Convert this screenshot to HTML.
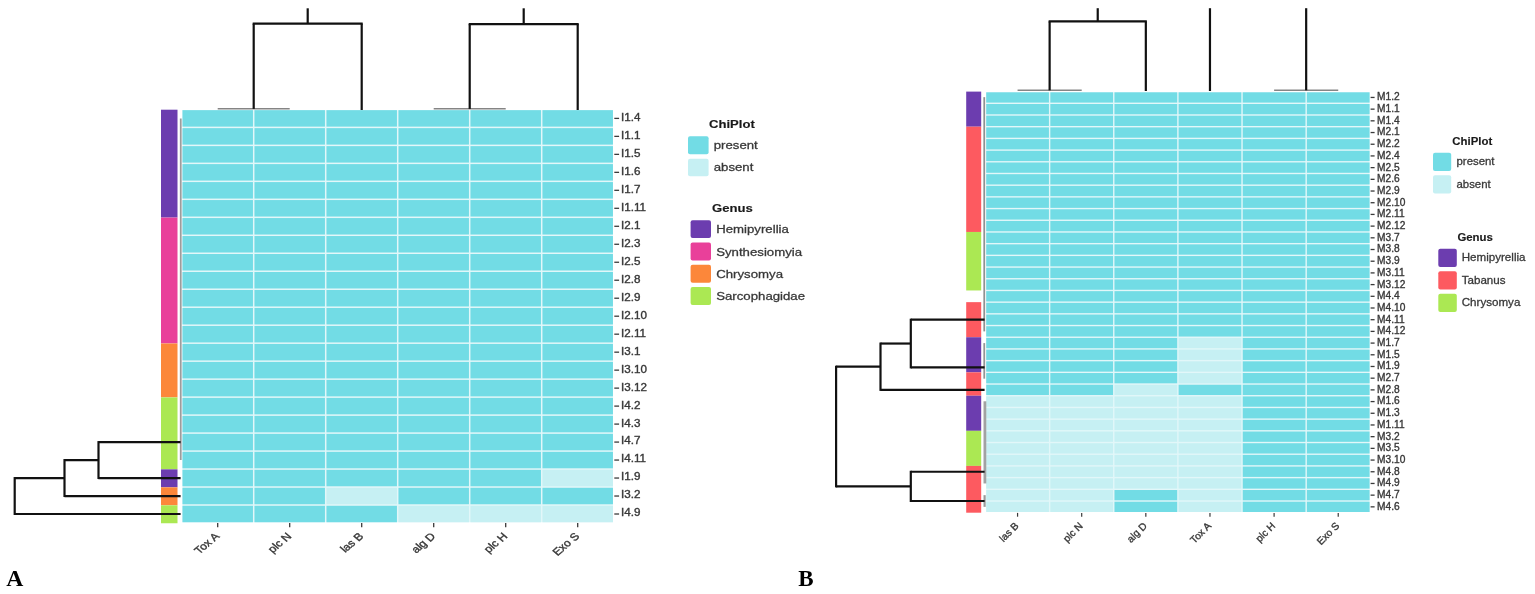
<!DOCTYPE html>
<html><head><meta charset="utf-8"><title>Heatmaps</title>
<style>html,body{margin:0;padding:0;background:#fff;}svg{display:block;}</style>
</head><body>
<svg width="1535" height="594" viewBox="0 0 1535 594">
<rect width="1535" height="594" fill="#fff"/>
<rect x="182.45" y="110.15" width="430.50" height="412.10" fill="#e2f7f9"/>
<rect x="182.45" y="110.15" width="70.50" height="16.48" fill="#72dce5"/>
<rect x="254.45" y="110.15" width="70.50" height="16.48" fill="#72dce5"/>
<rect x="326.45" y="110.15" width="70.50" height="16.48" fill="#72dce5"/>
<rect x="398.45" y="110.15" width="70.50" height="16.48" fill="#72dce5"/>
<rect x="470.45" y="110.15" width="70.50" height="16.48" fill="#72dce5"/>
<rect x="542.45" y="110.15" width="70.50" height="16.48" fill="#72dce5"/>
<rect x="182.45" y="128.13" width="70.50" height="16.48" fill="#72dce5"/>
<rect x="254.45" y="128.13" width="70.50" height="16.48" fill="#72dce5"/>
<rect x="326.45" y="128.13" width="70.50" height="16.48" fill="#72dce5"/>
<rect x="398.45" y="128.13" width="70.50" height="16.48" fill="#72dce5"/>
<rect x="470.45" y="128.13" width="70.50" height="16.48" fill="#72dce5"/>
<rect x="542.45" y="128.13" width="70.50" height="16.48" fill="#72dce5"/>
<rect x="182.45" y="146.12" width="70.50" height="16.48" fill="#72dce5"/>
<rect x="254.45" y="146.12" width="70.50" height="16.48" fill="#72dce5"/>
<rect x="326.45" y="146.12" width="70.50" height="16.48" fill="#72dce5"/>
<rect x="398.45" y="146.12" width="70.50" height="16.48" fill="#72dce5"/>
<rect x="470.45" y="146.12" width="70.50" height="16.48" fill="#72dce5"/>
<rect x="542.45" y="146.12" width="70.50" height="16.48" fill="#72dce5"/>
<rect x="182.45" y="164.10" width="70.50" height="16.48" fill="#72dce5"/>
<rect x="254.45" y="164.10" width="70.50" height="16.48" fill="#72dce5"/>
<rect x="326.45" y="164.10" width="70.50" height="16.48" fill="#72dce5"/>
<rect x="398.45" y="164.10" width="70.50" height="16.48" fill="#72dce5"/>
<rect x="470.45" y="164.10" width="70.50" height="16.48" fill="#72dce5"/>
<rect x="542.45" y="164.10" width="70.50" height="16.48" fill="#72dce5"/>
<rect x="182.45" y="182.08" width="70.50" height="16.48" fill="#72dce5"/>
<rect x="254.45" y="182.08" width="70.50" height="16.48" fill="#72dce5"/>
<rect x="326.45" y="182.08" width="70.50" height="16.48" fill="#72dce5"/>
<rect x="398.45" y="182.08" width="70.50" height="16.48" fill="#72dce5"/>
<rect x="470.45" y="182.08" width="70.50" height="16.48" fill="#72dce5"/>
<rect x="542.45" y="182.08" width="70.50" height="16.48" fill="#72dce5"/>
<rect x="182.45" y="200.06" width="70.50" height="16.48" fill="#72dce5"/>
<rect x="254.45" y="200.06" width="70.50" height="16.48" fill="#72dce5"/>
<rect x="326.45" y="200.06" width="70.50" height="16.48" fill="#72dce5"/>
<rect x="398.45" y="200.06" width="70.50" height="16.48" fill="#72dce5"/>
<rect x="470.45" y="200.06" width="70.50" height="16.48" fill="#72dce5"/>
<rect x="542.45" y="200.06" width="70.50" height="16.48" fill="#72dce5"/>
<rect x="182.45" y="218.05" width="70.50" height="16.48" fill="#72dce5"/>
<rect x="254.45" y="218.05" width="70.50" height="16.48" fill="#72dce5"/>
<rect x="326.45" y="218.05" width="70.50" height="16.48" fill="#72dce5"/>
<rect x="398.45" y="218.05" width="70.50" height="16.48" fill="#72dce5"/>
<rect x="470.45" y="218.05" width="70.50" height="16.48" fill="#72dce5"/>
<rect x="542.45" y="218.05" width="70.50" height="16.48" fill="#72dce5"/>
<rect x="182.45" y="236.03" width="70.50" height="16.48" fill="#72dce5"/>
<rect x="254.45" y="236.03" width="70.50" height="16.48" fill="#72dce5"/>
<rect x="326.45" y="236.03" width="70.50" height="16.48" fill="#72dce5"/>
<rect x="398.45" y="236.03" width="70.50" height="16.48" fill="#72dce5"/>
<rect x="470.45" y="236.03" width="70.50" height="16.48" fill="#72dce5"/>
<rect x="542.45" y="236.03" width="70.50" height="16.48" fill="#72dce5"/>
<rect x="182.45" y="254.01" width="70.50" height="16.48" fill="#72dce5"/>
<rect x="254.45" y="254.01" width="70.50" height="16.48" fill="#72dce5"/>
<rect x="326.45" y="254.01" width="70.50" height="16.48" fill="#72dce5"/>
<rect x="398.45" y="254.01" width="70.50" height="16.48" fill="#72dce5"/>
<rect x="470.45" y="254.01" width="70.50" height="16.48" fill="#72dce5"/>
<rect x="542.45" y="254.01" width="70.50" height="16.48" fill="#72dce5"/>
<rect x="182.45" y="271.99" width="70.50" height="16.48" fill="#72dce5"/>
<rect x="254.45" y="271.99" width="70.50" height="16.48" fill="#72dce5"/>
<rect x="326.45" y="271.99" width="70.50" height="16.48" fill="#72dce5"/>
<rect x="398.45" y="271.99" width="70.50" height="16.48" fill="#72dce5"/>
<rect x="470.45" y="271.99" width="70.50" height="16.48" fill="#72dce5"/>
<rect x="542.45" y="271.99" width="70.50" height="16.48" fill="#72dce5"/>
<rect x="182.45" y="289.98" width="70.50" height="16.48" fill="#72dce5"/>
<rect x="254.45" y="289.98" width="70.50" height="16.48" fill="#72dce5"/>
<rect x="326.45" y="289.98" width="70.50" height="16.48" fill="#72dce5"/>
<rect x="398.45" y="289.98" width="70.50" height="16.48" fill="#72dce5"/>
<rect x="470.45" y="289.98" width="70.50" height="16.48" fill="#72dce5"/>
<rect x="542.45" y="289.98" width="70.50" height="16.48" fill="#72dce5"/>
<rect x="182.45" y="307.96" width="70.50" height="16.48" fill="#72dce5"/>
<rect x="254.45" y="307.96" width="70.50" height="16.48" fill="#72dce5"/>
<rect x="326.45" y="307.96" width="70.50" height="16.48" fill="#72dce5"/>
<rect x="398.45" y="307.96" width="70.50" height="16.48" fill="#72dce5"/>
<rect x="470.45" y="307.96" width="70.50" height="16.48" fill="#72dce5"/>
<rect x="542.45" y="307.96" width="70.50" height="16.48" fill="#72dce5"/>
<rect x="182.45" y="325.94" width="70.50" height="16.48" fill="#72dce5"/>
<rect x="254.45" y="325.94" width="70.50" height="16.48" fill="#72dce5"/>
<rect x="326.45" y="325.94" width="70.50" height="16.48" fill="#72dce5"/>
<rect x="398.45" y="325.94" width="70.50" height="16.48" fill="#72dce5"/>
<rect x="470.45" y="325.94" width="70.50" height="16.48" fill="#72dce5"/>
<rect x="542.45" y="325.94" width="70.50" height="16.48" fill="#72dce5"/>
<rect x="182.45" y="343.92" width="70.50" height="16.48" fill="#72dce5"/>
<rect x="254.45" y="343.92" width="70.50" height="16.48" fill="#72dce5"/>
<rect x="326.45" y="343.92" width="70.50" height="16.48" fill="#72dce5"/>
<rect x="398.45" y="343.92" width="70.50" height="16.48" fill="#72dce5"/>
<rect x="470.45" y="343.92" width="70.50" height="16.48" fill="#72dce5"/>
<rect x="542.45" y="343.92" width="70.50" height="16.48" fill="#72dce5"/>
<rect x="182.45" y="361.91" width="70.50" height="16.48" fill="#72dce5"/>
<rect x="254.45" y="361.91" width="70.50" height="16.48" fill="#72dce5"/>
<rect x="326.45" y="361.91" width="70.50" height="16.48" fill="#72dce5"/>
<rect x="398.45" y="361.91" width="70.50" height="16.48" fill="#72dce5"/>
<rect x="470.45" y="361.91" width="70.50" height="16.48" fill="#72dce5"/>
<rect x="542.45" y="361.91" width="70.50" height="16.48" fill="#72dce5"/>
<rect x="182.45" y="379.89" width="70.50" height="16.48" fill="#72dce5"/>
<rect x="254.45" y="379.89" width="70.50" height="16.48" fill="#72dce5"/>
<rect x="326.45" y="379.89" width="70.50" height="16.48" fill="#72dce5"/>
<rect x="398.45" y="379.89" width="70.50" height="16.48" fill="#72dce5"/>
<rect x="470.45" y="379.89" width="70.50" height="16.48" fill="#72dce5"/>
<rect x="542.45" y="379.89" width="70.50" height="16.48" fill="#72dce5"/>
<rect x="182.45" y="397.87" width="70.50" height="16.48" fill="#72dce5"/>
<rect x="254.45" y="397.87" width="70.50" height="16.48" fill="#72dce5"/>
<rect x="326.45" y="397.87" width="70.50" height="16.48" fill="#72dce5"/>
<rect x="398.45" y="397.87" width="70.50" height="16.48" fill="#72dce5"/>
<rect x="470.45" y="397.87" width="70.50" height="16.48" fill="#72dce5"/>
<rect x="542.45" y="397.87" width="70.50" height="16.48" fill="#72dce5"/>
<rect x="182.45" y="415.85" width="70.50" height="16.48" fill="#72dce5"/>
<rect x="254.45" y="415.85" width="70.50" height="16.48" fill="#72dce5"/>
<rect x="326.45" y="415.85" width="70.50" height="16.48" fill="#72dce5"/>
<rect x="398.45" y="415.85" width="70.50" height="16.48" fill="#72dce5"/>
<rect x="470.45" y="415.85" width="70.50" height="16.48" fill="#72dce5"/>
<rect x="542.45" y="415.85" width="70.50" height="16.48" fill="#72dce5"/>
<rect x="182.45" y="433.84" width="70.50" height="16.48" fill="#72dce5"/>
<rect x="254.45" y="433.84" width="70.50" height="16.48" fill="#72dce5"/>
<rect x="326.45" y="433.84" width="70.50" height="16.48" fill="#72dce5"/>
<rect x="398.45" y="433.84" width="70.50" height="16.48" fill="#72dce5"/>
<rect x="470.45" y="433.84" width="70.50" height="16.48" fill="#72dce5"/>
<rect x="542.45" y="433.84" width="70.50" height="16.48" fill="#72dce5"/>
<rect x="182.45" y="451.82" width="70.50" height="16.48" fill="#72dce5"/>
<rect x="254.45" y="451.82" width="70.50" height="16.48" fill="#72dce5"/>
<rect x="326.45" y="451.82" width="70.50" height="16.48" fill="#72dce5"/>
<rect x="398.45" y="451.82" width="70.50" height="16.48" fill="#72dce5"/>
<rect x="470.45" y="451.82" width="70.50" height="16.48" fill="#72dce5"/>
<rect x="542.45" y="451.82" width="70.50" height="16.48" fill="#72dce5"/>
<rect x="182.45" y="469.80" width="70.50" height="16.48" fill="#72dce5"/>
<rect x="254.45" y="469.80" width="70.50" height="16.48" fill="#72dce5"/>
<rect x="326.45" y="469.80" width="70.50" height="16.48" fill="#72dce5"/>
<rect x="398.45" y="469.80" width="70.50" height="16.48" fill="#72dce5"/>
<rect x="470.45" y="469.80" width="70.50" height="16.48" fill="#72dce5"/>
<rect x="542.45" y="469.80" width="70.50" height="16.48" fill="#c6f0f3"/>
<rect x="182.45" y="487.78" width="70.50" height="16.48" fill="#72dce5"/>
<rect x="254.45" y="487.78" width="70.50" height="16.48" fill="#72dce5"/>
<rect x="326.45" y="487.78" width="70.50" height="16.48" fill="#c6f0f3"/>
<rect x="398.45" y="487.78" width="70.50" height="16.48" fill="#72dce5"/>
<rect x="470.45" y="487.78" width="70.50" height="16.48" fill="#72dce5"/>
<rect x="542.45" y="487.78" width="70.50" height="16.48" fill="#72dce5"/>
<rect x="182.45" y="505.77" width="70.50" height="16.48" fill="#72dce5"/>
<rect x="254.45" y="505.77" width="70.50" height="16.48" fill="#72dce5"/>
<rect x="326.45" y="505.77" width="70.50" height="16.48" fill="#72dce5"/>
<rect x="398.45" y="505.77" width="70.50" height="16.48" fill="#c6f0f3"/>
<rect x="470.45" y="505.77" width="70.50" height="16.48" fill="#c6f0f3"/>
<rect x="542.45" y="505.77" width="70.50" height="16.48" fill="#c6f0f3"/>
<rect x="161.00" y="109.70" width="16.50" height="107.85" fill="#6c3daf"/>
<rect x="161.00" y="217.60" width="16.50" height="125.83" fill="#e9409a"/>
<rect x="161.00" y="343.47" width="16.50" height="53.90" fill="#fc873a"/>
<rect x="161.00" y="397.42" width="16.50" height="71.88" fill="#abe853"/>
<rect x="161.00" y="469.35" width="16.50" height="17.93" fill="#6c3daf"/>
<rect x="161.00" y="487.33" width="16.50" height="17.93" fill="#fc873a"/>
<rect x="161.00" y="505.32" width="16.50" height="17.93" fill="#abe853"/>
<line x1="180.75" y1="118.39" x2="180.75" y2="460.06" stroke="#9c9c9c" stroke-width="1.8"/>
<line x1="217.70" y1="108.80" x2="289.70" y2="108.80" stroke="#858585" stroke-width="1.5"/>
<line x1="433.70" y1="108.80" x2="505.70" y2="108.80" stroke="#858585" stroke-width="1.5"/>
<line x1="253.70" y1="108.90" x2="253.70" y2="23.60" stroke="#111" stroke-width="2.2"/>
<line x1="361.70" y1="110.00" x2="361.70" y2="23.60" stroke="#111" stroke-width="2.2"/>
<line x1="252.70" y1="23.60" x2="362.70" y2="23.60" stroke="#111" stroke-width="2.2"/>
<line x1="307.70" y1="23.60" x2="307.70" y2="8.30" stroke="#111" stroke-width="2.2"/>
<line x1="469.70" y1="108.90" x2="469.70" y2="24.10" stroke="#111" stroke-width="2.2"/>
<line x1="577.70" y1="110.00" x2="577.70" y2="24.10" stroke="#111" stroke-width="2.2"/>
<line x1="468.70" y1="24.10" x2="578.70" y2="24.10" stroke="#111" stroke-width="2.2"/>
<line x1="523.70" y1="24.10" x2="523.70" y2="8.30" stroke="#111" stroke-width="2.2"/>
<line x1="98.50" y1="442.08" x2="180.60" y2="442.08" stroke="#111" stroke-width="2.2"/>
<line x1="98.50" y1="478.04" x2="180.60" y2="478.04" stroke="#111" stroke-width="2.2"/>
<line x1="98.50" y1="441.08" x2="98.50" y2="479.04" stroke="#111" stroke-width="2.2"/>
<line x1="64.50" y1="460.06" x2="98.50" y2="460.06" stroke="#111" stroke-width="2.2"/>
<line x1="64.50" y1="496.03" x2="180.60" y2="496.03" stroke="#111" stroke-width="2.2"/>
<line x1="64.50" y1="459.06" x2="64.50" y2="497.03" stroke="#111" stroke-width="2.2"/>
<line x1="14.70" y1="478.04" x2="64.50" y2="478.04" stroke="#111" stroke-width="2.2"/>
<line x1="14.70" y1="514.01" x2="180.60" y2="514.01" stroke="#111" stroke-width="2.2"/>
<line x1="14.70" y1="477.04" x2="14.70" y2="515.01" stroke="#111" stroke-width="2.2"/>
<line x1="614.30" y1="118.39" x2="619.10" y2="118.39" stroke="#3a3a3a" stroke-width="1.3"/>
<text transform="translate(621.00,120.79) scale(1.12,1)" font-size="10.4" font-family='"Liberation Sans", Arial, sans-serif' stroke="#383838" stroke-width="0.35" fill="#383838" text-anchor="start">I1.4</text>
<line x1="614.30" y1="136.37" x2="619.10" y2="136.37" stroke="#3a3a3a" stroke-width="1.3"/>
<text transform="translate(621.00,138.77) scale(1.12,1)" font-size="10.4" font-family='"Liberation Sans", Arial, sans-serif' stroke="#383838" stroke-width="0.35" fill="#383838" text-anchor="start">I1.1</text>
<line x1="614.30" y1="154.36" x2="619.10" y2="154.36" stroke="#3a3a3a" stroke-width="1.3"/>
<text transform="translate(621.00,156.76) scale(1.12,1)" font-size="10.4" font-family='"Liberation Sans", Arial, sans-serif' stroke="#383838" stroke-width="0.35" fill="#383838" text-anchor="start">I1.5</text>
<line x1="614.30" y1="172.34" x2="619.10" y2="172.34" stroke="#3a3a3a" stroke-width="1.3"/>
<text transform="translate(621.00,174.74) scale(1.12,1)" font-size="10.4" font-family='"Liberation Sans", Arial, sans-serif' stroke="#383838" stroke-width="0.35" fill="#383838" text-anchor="start">I1.6</text>
<line x1="614.30" y1="190.32" x2="619.10" y2="190.32" stroke="#3a3a3a" stroke-width="1.3"/>
<text transform="translate(621.00,192.72) scale(1.12,1)" font-size="10.4" font-family='"Liberation Sans", Arial, sans-serif' stroke="#383838" stroke-width="0.35" fill="#383838" text-anchor="start">I1.7</text>
<line x1="614.30" y1="208.30" x2="619.10" y2="208.30" stroke="#3a3a3a" stroke-width="1.3"/>
<text transform="translate(621.00,210.70) scale(1.12,1)" font-size="10.4" font-family='"Liberation Sans", Arial, sans-serif' stroke="#383838" stroke-width="0.35" fill="#383838" text-anchor="start">I1.11</text>
<line x1="614.30" y1="226.29" x2="619.10" y2="226.29" stroke="#3a3a3a" stroke-width="1.3"/>
<text transform="translate(621.00,228.69) scale(1.12,1)" font-size="10.4" font-family='"Liberation Sans", Arial, sans-serif' stroke="#383838" stroke-width="0.35" fill="#383838" text-anchor="start">I2.1</text>
<line x1="614.30" y1="244.27" x2="619.10" y2="244.27" stroke="#3a3a3a" stroke-width="1.3"/>
<text transform="translate(621.00,246.67) scale(1.12,1)" font-size="10.4" font-family='"Liberation Sans", Arial, sans-serif' stroke="#383838" stroke-width="0.35" fill="#383838" text-anchor="start">I2.3</text>
<line x1="614.30" y1="262.25" x2="619.10" y2="262.25" stroke="#3a3a3a" stroke-width="1.3"/>
<text transform="translate(621.00,264.65) scale(1.12,1)" font-size="10.4" font-family='"Liberation Sans", Arial, sans-serif' stroke="#383838" stroke-width="0.35" fill="#383838" text-anchor="start">I2.5</text>
<line x1="614.30" y1="280.23" x2="619.10" y2="280.23" stroke="#3a3a3a" stroke-width="1.3"/>
<text transform="translate(621.00,282.63) scale(1.12,1)" font-size="10.4" font-family='"Liberation Sans", Arial, sans-serif' stroke="#383838" stroke-width="0.35" fill="#383838" text-anchor="start">I2.8</text>
<line x1="614.30" y1="298.22" x2="619.10" y2="298.22" stroke="#3a3a3a" stroke-width="1.3"/>
<text transform="translate(621.00,300.62) scale(1.12,1)" font-size="10.4" font-family='"Liberation Sans", Arial, sans-serif' stroke="#383838" stroke-width="0.35" fill="#383838" text-anchor="start">I2.9</text>
<line x1="614.30" y1="316.20" x2="619.10" y2="316.20" stroke="#3a3a3a" stroke-width="1.3"/>
<text transform="translate(621.00,318.60) scale(1.12,1)" font-size="10.4" font-family='"Liberation Sans", Arial, sans-serif' stroke="#383838" stroke-width="0.35" fill="#383838" text-anchor="start">I2.10</text>
<line x1="614.30" y1="334.18" x2="619.10" y2="334.18" stroke="#3a3a3a" stroke-width="1.3"/>
<text transform="translate(621.00,336.58) scale(1.12,1)" font-size="10.4" font-family='"Liberation Sans", Arial, sans-serif' stroke="#383838" stroke-width="0.35" fill="#383838" text-anchor="start">I2.11</text>
<line x1="614.30" y1="352.17" x2="619.10" y2="352.17" stroke="#3a3a3a" stroke-width="1.3"/>
<text transform="translate(621.00,354.57) scale(1.12,1)" font-size="10.4" font-family='"Liberation Sans", Arial, sans-serif' stroke="#383838" stroke-width="0.35" fill="#383838" text-anchor="start">I3.1</text>
<line x1="614.30" y1="370.15" x2="619.10" y2="370.15" stroke="#3a3a3a" stroke-width="1.3"/>
<text transform="translate(621.00,372.55) scale(1.12,1)" font-size="10.4" font-family='"Liberation Sans", Arial, sans-serif' stroke="#383838" stroke-width="0.35" fill="#383838" text-anchor="start">I3.10</text>
<line x1="614.30" y1="388.13" x2="619.10" y2="388.13" stroke="#3a3a3a" stroke-width="1.3"/>
<text transform="translate(621.00,390.53) scale(1.12,1)" font-size="10.4" font-family='"Liberation Sans", Arial, sans-serif' stroke="#383838" stroke-width="0.35" fill="#383838" text-anchor="start">I3.12</text>
<line x1="614.30" y1="406.11" x2="619.10" y2="406.11" stroke="#3a3a3a" stroke-width="1.3"/>
<text transform="translate(621.00,408.51) scale(1.12,1)" font-size="10.4" font-family='"Liberation Sans", Arial, sans-serif' stroke="#383838" stroke-width="0.35" fill="#383838" text-anchor="start">I4.2</text>
<line x1="614.30" y1="424.10" x2="619.10" y2="424.10" stroke="#3a3a3a" stroke-width="1.3"/>
<text transform="translate(621.00,426.50) scale(1.12,1)" font-size="10.4" font-family='"Liberation Sans", Arial, sans-serif' stroke="#383838" stroke-width="0.35" fill="#383838" text-anchor="start">I4.3</text>
<line x1="614.30" y1="442.08" x2="619.10" y2="442.08" stroke="#3a3a3a" stroke-width="1.3"/>
<text transform="translate(621.00,444.48) scale(1.12,1)" font-size="10.4" font-family='"Liberation Sans", Arial, sans-serif' stroke="#383838" stroke-width="0.35" fill="#383838" text-anchor="start">I4.7</text>
<line x1="614.30" y1="460.06" x2="619.10" y2="460.06" stroke="#3a3a3a" stroke-width="1.3"/>
<text transform="translate(621.00,462.46) scale(1.12,1)" font-size="10.4" font-family='"Liberation Sans", Arial, sans-serif' stroke="#383838" stroke-width="0.35" fill="#383838" text-anchor="start">I4.11</text>
<line x1="614.30" y1="478.04" x2="619.10" y2="478.04" stroke="#3a3a3a" stroke-width="1.3"/>
<text transform="translate(621.00,480.44) scale(1.12,1)" font-size="10.4" font-family='"Liberation Sans", Arial, sans-serif' stroke="#383838" stroke-width="0.35" fill="#383838" text-anchor="start">I1.9</text>
<line x1="614.30" y1="496.03" x2="619.10" y2="496.03" stroke="#3a3a3a" stroke-width="1.3"/>
<text transform="translate(621.00,498.43) scale(1.12,1)" font-size="10.4" font-family='"Liberation Sans", Arial, sans-serif' stroke="#383838" stroke-width="0.35" fill="#383838" text-anchor="start">I3.2</text>
<line x1="614.30" y1="514.01" x2="619.10" y2="514.01" stroke="#3a3a3a" stroke-width="1.3"/>
<text transform="translate(621.00,516.41) scale(1.12,1)" font-size="10.4" font-family='"Liberation Sans", Arial, sans-serif' stroke="#383838" stroke-width="0.35" fill="#383838" text-anchor="start">I4.9</text>
<line x1="217.70" y1="523.10" x2="217.70" y2="527.30" stroke="#3a3a3a" stroke-width="1.3"/>
<text transform="translate(220.10,536.90) scale(1.17,1) rotate(-45)" font-size="10.3" font-family='"Liberation Sans", Arial, sans-serif' stroke="#383838" stroke-width="0.35" fill="#383838" text-anchor="end">Tox A</text>
<line x1="289.70" y1="523.10" x2="289.70" y2="527.30" stroke="#3a3a3a" stroke-width="1.3"/>
<text transform="translate(292.10,536.90) scale(1.17,1) rotate(-45)" font-size="10.3" font-family='"Liberation Sans", Arial, sans-serif' stroke="#383838" stroke-width="0.35" fill="#383838" text-anchor="end">plc N</text>
<line x1="361.70" y1="523.10" x2="361.70" y2="527.30" stroke="#3a3a3a" stroke-width="1.3"/>
<text transform="translate(364.10,536.90) scale(1.17,1) rotate(-45)" font-size="10.3" font-family='"Liberation Sans", Arial, sans-serif' stroke="#383838" stroke-width="0.35" fill="#383838" text-anchor="end">las B</text>
<line x1="433.70" y1="523.10" x2="433.70" y2="527.30" stroke="#3a3a3a" stroke-width="1.3"/>
<text transform="translate(436.10,536.90) scale(1.17,1) rotate(-45)" font-size="10.3" font-family='"Liberation Sans", Arial, sans-serif' stroke="#383838" stroke-width="0.35" fill="#383838" text-anchor="end">alg D</text>
<line x1="505.70" y1="523.10" x2="505.70" y2="527.30" stroke="#3a3a3a" stroke-width="1.3"/>
<text transform="translate(508.10,536.90) scale(1.17,1) rotate(-45)" font-size="10.3" font-family='"Liberation Sans", Arial, sans-serif' stroke="#383838" stroke-width="0.35" fill="#383838" text-anchor="end">plc H</text>
<line x1="577.70" y1="523.10" x2="577.70" y2="527.30" stroke="#3a3a3a" stroke-width="1.3"/>
<text transform="translate(580.10,536.90) scale(1.17,1) rotate(-45)" font-size="10.3" font-family='"Liberation Sans", Arial, sans-serif' stroke="#383838" stroke-width="0.35" fill="#383838" text-anchor="end">Exo S</text>
<text transform="translate(709.00,128.20) scale(1.17,1)" font-size="11.2" font-family='"Liberation Sans", Arial, sans-serif' font-weight="bold" stroke="#1a1a1a" stroke-width="0.15" fill="#1a1a1a" text-anchor="start">ChiPlot</text>
<rect x="688.00" y="136.30" width="20.60" height="17.90" fill="#72dce5" rx="2"/>
<rect x="688.00" y="158.80" width="20.60" height="17.50" fill="#c6f0f3" rx="2"/>
<text transform="translate(713.70,148.80) scale(1.13,1)" font-size="11.7" font-family='"Liberation Sans", Arial, sans-serif' stroke="#383838" stroke-width="0.3" fill="#383838" text-anchor="start">present</text>
<text transform="translate(713.70,170.80) scale(1.13,1)" font-size="11.7" font-family='"Liberation Sans", Arial, sans-serif' stroke="#383838" stroke-width="0.3" fill="#383838" text-anchor="start">absent</text>
<text transform="translate(712.00,212.40) scale(1.17,1)" font-size="11.2" font-family='"Liberation Sans", Arial, sans-serif' font-weight="bold" stroke="#1a1a1a" stroke-width="0.15" fill="#1a1a1a" text-anchor="start">Genus</text>
<rect x="690.60" y="220.20" width="20.40" height="17.90" fill="#6c3daf" rx="2"/>
<text transform="translate(716.20,233.40) scale(1.13,1)" font-size="11.7" font-family='"Liberation Sans", Arial, sans-serif' stroke="#383838" stroke-width="0.3" fill="#383838" text-anchor="start">Hemipyrellia</text>
<rect x="690.60" y="242.50" width="20.40" height="17.90" fill="#e9409a" rx="2"/>
<text transform="translate(716.20,255.70) scale(1.13,1)" font-size="11.7" font-family='"Liberation Sans", Arial, sans-serif' stroke="#383838" stroke-width="0.3" fill="#383838" text-anchor="start">Synthesiomyia</text>
<rect x="690.60" y="264.80" width="20.40" height="17.90" fill="#fc873a" rx="2"/>
<text transform="translate(716.20,278.00) scale(1.13,1)" font-size="11.7" font-family='"Liberation Sans", Arial, sans-serif' stroke="#383838" stroke-width="0.3" fill="#383838" text-anchor="start">Chrysomya</text>
<rect x="690.60" y="287.10" width="20.40" height="17.90" fill="#abe853" rx="2"/>
<text transform="translate(716.20,300.30) scale(1.13,1)" font-size="11.7" font-family='"Liberation Sans", Arial, sans-serif' stroke="#383838" stroke-width="0.3" fill="#383838" text-anchor="start">Sarcophagidae</text>
<text transform="translate(6.20,585.90) scale(1.03,1)" font-size="23" font-family='"Liberation Serif", "Times New Roman", serif' font-weight="bold" fill="#000" text-anchor="start">A</text>
<rect x="986.20" y="92.30" width="383.40" height="419.70" fill="#e2f7f9"/>
<rect x="986.20" y="92.30" width="62.73" height="10.30" fill="#72dce5"/>
<rect x="1050.33" y="92.30" width="62.73" height="10.30" fill="#72dce5"/>
<rect x="1114.47" y="92.30" width="62.73" height="10.30" fill="#72dce5"/>
<rect x="1178.60" y="92.30" width="62.73" height="10.30" fill="#72dce5"/>
<rect x="1242.73" y="92.30" width="62.73" height="10.30" fill="#72dce5"/>
<rect x="1306.87" y="92.30" width="62.73" height="10.30" fill="#72dce5"/>
<rect x="986.20" y="104.00" width="62.73" height="10.30" fill="#72dce5"/>
<rect x="1050.33" y="104.00" width="62.73" height="10.30" fill="#72dce5"/>
<rect x="1114.47" y="104.00" width="62.73" height="10.30" fill="#72dce5"/>
<rect x="1178.60" y="104.00" width="62.73" height="10.30" fill="#72dce5"/>
<rect x="1242.73" y="104.00" width="62.73" height="10.30" fill="#72dce5"/>
<rect x="1306.87" y="104.00" width="62.73" height="10.30" fill="#72dce5"/>
<rect x="986.20" y="115.69" width="62.73" height="10.30" fill="#72dce5"/>
<rect x="1050.33" y="115.69" width="62.73" height="10.30" fill="#72dce5"/>
<rect x="1114.47" y="115.69" width="62.73" height="10.30" fill="#72dce5"/>
<rect x="1178.60" y="115.69" width="62.73" height="10.30" fill="#72dce5"/>
<rect x="1242.73" y="115.69" width="62.73" height="10.30" fill="#72dce5"/>
<rect x="1306.87" y="115.69" width="62.73" height="10.30" fill="#72dce5"/>
<rect x="986.20" y="127.39" width="62.73" height="10.30" fill="#72dce5"/>
<rect x="1050.33" y="127.39" width="62.73" height="10.30" fill="#72dce5"/>
<rect x="1114.47" y="127.39" width="62.73" height="10.30" fill="#72dce5"/>
<rect x="1178.60" y="127.39" width="62.73" height="10.30" fill="#72dce5"/>
<rect x="1242.73" y="127.39" width="62.73" height="10.30" fill="#72dce5"/>
<rect x="1306.87" y="127.39" width="62.73" height="10.30" fill="#72dce5"/>
<rect x="986.20" y="139.09" width="62.73" height="10.30" fill="#72dce5"/>
<rect x="1050.33" y="139.09" width="62.73" height="10.30" fill="#72dce5"/>
<rect x="1114.47" y="139.09" width="62.73" height="10.30" fill="#72dce5"/>
<rect x="1178.60" y="139.09" width="62.73" height="10.30" fill="#72dce5"/>
<rect x="1242.73" y="139.09" width="62.73" height="10.30" fill="#72dce5"/>
<rect x="1306.87" y="139.09" width="62.73" height="10.30" fill="#72dce5"/>
<rect x="986.20" y="150.79" width="62.73" height="10.30" fill="#72dce5"/>
<rect x="1050.33" y="150.79" width="62.73" height="10.30" fill="#72dce5"/>
<rect x="1114.47" y="150.79" width="62.73" height="10.30" fill="#72dce5"/>
<rect x="1178.60" y="150.79" width="62.73" height="10.30" fill="#72dce5"/>
<rect x="1242.73" y="150.79" width="62.73" height="10.30" fill="#72dce5"/>
<rect x="1306.87" y="150.79" width="62.73" height="10.30" fill="#72dce5"/>
<rect x="986.20" y="162.48" width="62.73" height="10.30" fill="#72dce5"/>
<rect x="1050.33" y="162.48" width="62.73" height="10.30" fill="#72dce5"/>
<rect x="1114.47" y="162.48" width="62.73" height="10.30" fill="#72dce5"/>
<rect x="1178.60" y="162.48" width="62.73" height="10.30" fill="#72dce5"/>
<rect x="1242.73" y="162.48" width="62.73" height="10.30" fill="#72dce5"/>
<rect x="1306.87" y="162.48" width="62.73" height="10.30" fill="#72dce5"/>
<rect x="986.20" y="174.18" width="62.73" height="10.30" fill="#72dce5"/>
<rect x="1050.33" y="174.18" width="62.73" height="10.30" fill="#72dce5"/>
<rect x="1114.47" y="174.18" width="62.73" height="10.30" fill="#72dce5"/>
<rect x="1178.60" y="174.18" width="62.73" height="10.30" fill="#72dce5"/>
<rect x="1242.73" y="174.18" width="62.73" height="10.30" fill="#72dce5"/>
<rect x="1306.87" y="174.18" width="62.73" height="10.30" fill="#72dce5"/>
<rect x="986.20" y="185.88" width="62.73" height="10.30" fill="#72dce5"/>
<rect x="1050.33" y="185.88" width="62.73" height="10.30" fill="#72dce5"/>
<rect x="1114.47" y="185.88" width="62.73" height="10.30" fill="#72dce5"/>
<rect x="1178.60" y="185.88" width="62.73" height="10.30" fill="#72dce5"/>
<rect x="1242.73" y="185.88" width="62.73" height="10.30" fill="#72dce5"/>
<rect x="1306.87" y="185.88" width="62.73" height="10.30" fill="#72dce5"/>
<rect x="986.20" y="197.57" width="62.73" height="10.30" fill="#72dce5"/>
<rect x="1050.33" y="197.57" width="62.73" height="10.30" fill="#72dce5"/>
<rect x="1114.47" y="197.57" width="62.73" height="10.30" fill="#72dce5"/>
<rect x="1178.60" y="197.57" width="62.73" height="10.30" fill="#72dce5"/>
<rect x="1242.73" y="197.57" width="62.73" height="10.30" fill="#72dce5"/>
<rect x="1306.87" y="197.57" width="62.73" height="10.30" fill="#72dce5"/>
<rect x="986.20" y="209.27" width="62.73" height="10.30" fill="#72dce5"/>
<rect x="1050.33" y="209.27" width="62.73" height="10.30" fill="#72dce5"/>
<rect x="1114.47" y="209.27" width="62.73" height="10.30" fill="#72dce5"/>
<rect x="1178.60" y="209.27" width="62.73" height="10.30" fill="#72dce5"/>
<rect x="1242.73" y="209.27" width="62.73" height="10.30" fill="#72dce5"/>
<rect x="1306.87" y="209.27" width="62.73" height="10.30" fill="#72dce5"/>
<rect x="986.20" y="220.97" width="62.73" height="10.30" fill="#72dce5"/>
<rect x="1050.33" y="220.97" width="62.73" height="10.30" fill="#72dce5"/>
<rect x="1114.47" y="220.97" width="62.73" height="10.30" fill="#72dce5"/>
<rect x="1178.60" y="220.97" width="62.73" height="10.30" fill="#72dce5"/>
<rect x="1242.73" y="220.97" width="62.73" height="10.30" fill="#72dce5"/>
<rect x="1306.87" y="220.97" width="62.73" height="10.30" fill="#72dce5"/>
<rect x="986.20" y="232.67" width="62.73" height="10.30" fill="#72dce5"/>
<rect x="1050.33" y="232.67" width="62.73" height="10.30" fill="#72dce5"/>
<rect x="1114.47" y="232.67" width="62.73" height="10.30" fill="#72dce5"/>
<rect x="1178.60" y="232.67" width="62.73" height="10.30" fill="#72dce5"/>
<rect x="1242.73" y="232.67" width="62.73" height="10.30" fill="#72dce5"/>
<rect x="1306.87" y="232.67" width="62.73" height="10.30" fill="#72dce5"/>
<rect x="986.20" y="244.36" width="62.73" height="10.30" fill="#72dce5"/>
<rect x="1050.33" y="244.36" width="62.73" height="10.30" fill="#72dce5"/>
<rect x="1114.47" y="244.36" width="62.73" height="10.30" fill="#72dce5"/>
<rect x="1178.60" y="244.36" width="62.73" height="10.30" fill="#72dce5"/>
<rect x="1242.73" y="244.36" width="62.73" height="10.30" fill="#72dce5"/>
<rect x="1306.87" y="244.36" width="62.73" height="10.30" fill="#72dce5"/>
<rect x="986.20" y="256.06" width="62.73" height="10.30" fill="#72dce5"/>
<rect x="1050.33" y="256.06" width="62.73" height="10.30" fill="#72dce5"/>
<rect x="1114.47" y="256.06" width="62.73" height="10.30" fill="#72dce5"/>
<rect x="1178.60" y="256.06" width="62.73" height="10.30" fill="#72dce5"/>
<rect x="1242.73" y="256.06" width="62.73" height="10.30" fill="#72dce5"/>
<rect x="1306.87" y="256.06" width="62.73" height="10.30" fill="#72dce5"/>
<rect x="986.20" y="267.76" width="62.73" height="10.30" fill="#72dce5"/>
<rect x="1050.33" y="267.76" width="62.73" height="10.30" fill="#72dce5"/>
<rect x="1114.47" y="267.76" width="62.73" height="10.30" fill="#72dce5"/>
<rect x="1178.60" y="267.76" width="62.73" height="10.30" fill="#72dce5"/>
<rect x="1242.73" y="267.76" width="62.73" height="10.30" fill="#72dce5"/>
<rect x="1306.87" y="267.76" width="62.73" height="10.30" fill="#72dce5"/>
<rect x="986.20" y="279.46" width="62.73" height="10.30" fill="#72dce5"/>
<rect x="1050.33" y="279.46" width="62.73" height="10.30" fill="#72dce5"/>
<rect x="1114.47" y="279.46" width="62.73" height="10.30" fill="#72dce5"/>
<rect x="1178.60" y="279.46" width="62.73" height="10.30" fill="#72dce5"/>
<rect x="1242.73" y="279.46" width="62.73" height="10.30" fill="#72dce5"/>
<rect x="1306.87" y="279.46" width="62.73" height="10.30" fill="#72dce5"/>
<rect x="986.20" y="291.15" width="62.73" height="10.30" fill="#72dce5"/>
<rect x="1050.33" y="291.15" width="62.73" height="10.30" fill="#72dce5"/>
<rect x="1114.47" y="291.15" width="62.73" height="10.30" fill="#72dce5"/>
<rect x="1178.60" y="291.15" width="62.73" height="10.30" fill="#72dce5"/>
<rect x="1242.73" y="291.15" width="62.73" height="10.30" fill="#72dce5"/>
<rect x="1306.87" y="291.15" width="62.73" height="10.30" fill="#72dce5"/>
<rect x="986.20" y="302.85" width="62.73" height="10.30" fill="#72dce5"/>
<rect x="1050.33" y="302.85" width="62.73" height="10.30" fill="#72dce5"/>
<rect x="1114.47" y="302.85" width="62.73" height="10.30" fill="#72dce5"/>
<rect x="1178.60" y="302.85" width="62.73" height="10.30" fill="#72dce5"/>
<rect x="1242.73" y="302.85" width="62.73" height="10.30" fill="#72dce5"/>
<rect x="1306.87" y="302.85" width="62.73" height="10.30" fill="#72dce5"/>
<rect x="986.20" y="314.55" width="62.73" height="10.30" fill="#72dce5"/>
<rect x="1050.33" y="314.55" width="62.73" height="10.30" fill="#72dce5"/>
<rect x="1114.47" y="314.55" width="62.73" height="10.30" fill="#72dce5"/>
<rect x="1178.60" y="314.55" width="62.73" height="10.30" fill="#72dce5"/>
<rect x="1242.73" y="314.55" width="62.73" height="10.30" fill="#72dce5"/>
<rect x="1306.87" y="314.55" width="62.73" height="10.30" fill="#72dce5"/>
<rect x="986.20" y="326.24" width="62.73" height="10.30" fill="#72dce5"/>
<rect x="1050.33" y="326.24" width="62.73" height="10.30" fill="#72dce5"/>
<rect x="1114.47" y="326.24" width="62.73" height="10.30" fill="#72dce5"/>
<rect x="1178.60" y="326.24" width="62.73" height="10.30" fill="#72dce5"/>
<rect x="1242.73" y="326.24" width="62.73" height="10.30" fill="#72dce5"/>
<rect x="1306.87" y="326.24" width="62.73" height="10.30" fill="#72dce5"/>
<rect x="986.20" y="337.94" width="62.73" height="10.30" fill="#72dce5"/>
<rect x="1050.33" y="337.94" width="62.73" height="10.30" fill="#72dce5"/>
<rect x="1114.47" y="337.94" width="62.73" height="10.30" fill="#72dce5"/>
<rect x="1178.60" y="337.94" width="62.73" height="10.30" fill="#c6f0f3"/>
<rect x="1242.73" y="337.94" width="62.73" height="10.30" fill="#72dce5"/>
<rect x="1306.87" y="337.94" width="62.73" height="10.30" fill="#72dce5"/>
<rect x="986.20" y="349.64" width="62.73" height="10.30" fill="#72dce5"/>
<rect x="1050.33" y="349.64" width="62.73" height="10.30" fill="#72dce5"/>
<rect x="1114.47" y="349.64" width="62.73" height="10.30" fill="#72dce5"/>
<rect x="1178.60" y="349.64" width="62.73" height="10.30" fill="#c6f0f3"/>
<rect x="1242.73" y="349.64" width="62.73" height="10.30" fill="#72dce5"/>
<rect x="1306.87" y="349.64" width="62.73" height="10.30" fill="#72dce5"/>
<rect x="986.20" y="361.34" width="62.73" height="10.30" fill="#72dce5"/>
<rect x="1050.33" y="361.34" width="62.73" height="10.30" fill="#72dce5"/>
<rect x="1114.47" y="361.34" width="62.73" height="10.30" fill="#72dce5"/>
<rect x="1178.60" y="361.34" width="62.73" height="10.30" fill="#c6f0f3"/>
<rect x="1242.73" y="361.34" width="62.73" height="10.30" fill="#72dce5"/>
<rect x="1306.87" y="361.34" width="62.73" height="10.30" fill="#72dce5"/>
<rect x="986.20" y="373.03" width="62.73" height="10.30" fill="#72dce5"/>
<rect x="1050.33" y="373.03" width="62.73" height="10.30" fill="#72dce5"/>
<rect x="1114.47" y="373.03" width="62.73" height="10.30" fill="#72dce5"/>
<rect x="1178.60" y="373.03" width="62.73" height="10.30" fill="#c6f0f3"/>
<rect x="1242.73" y="373.03" width="62.73" height="10.30" fill="#72dce5"/>
<rect x="1306.87" y="373.03" width="62.73" height="10.30" fill="#72dce5"/>
<rect x="986.20" y="384.73" width="62.73" height="10.30" fill="#72dce5"/>
<rect x="1050.33" y="384.73" width="62.73" height="10.30" fill="#72dce5"/>
<rect x="1114.47" y="384.73" width="62.73" height="10.30" fill="#c6f0f3"/>
<rect x="1178.60" y="384.73" width="62.73" height="10.30" fill="#72dce5"/>
<rect x="1242.73" y="384.73" width="62.73" height="10.30" fill="#72dce5"/>
<rect x="1306.87" y="384.73" width="62.73" height="10.30" fill="#72dce5"/>
<rect x="986.20" y="396.43" width="62.73" height="10.30" fill="#c6f0f3"/>
<rect x="1050.33" y="396.43" width="62.73" height="10.30" fill="#c6f0f3"/>
<rect x="1114.47" y="396.43" width="62.73" height="10.30" fill="#c6f0f3"/>
<rect x="1178.60" y="396.43" width="62.73" height="10.30" fill="#c6f0f3"/>
<rect x="1242.73" y="396.43" width="62.73" height="10.30" fill="#72dce5"/>
<rect x="1306.87" y="396.43" width="62.73" height="10.30" fill="#72dce5"/>
<rect x="986.20" y="408.13" width="62.73" height="10.30" fill="#c6f0f3"/>
<rect x="1050.33" y="408.13" width="62.73" height="10.30" fill="#c6f0f3"/>
<rect x="1114.47" y="408.13" width="62.73" height="10.30" fill="#c6f0f3"/>
<rect x="1178.60" y="408.13" width="62.73" height="10.30" fill="#c6f0f3"/>
<rect x="1242.73" y="408.13" width="62.73" height="10.30" fill="#72dce5"/>
<rect x="1306.87" y="408.13" width="62.73" height="10.30" fill="#72dce5"/>
<rect x="986.20" y="419.82" width="62.73" height="10.30" fill="#c6f0f3"/>
<rect x="1050.33" y="419.82" width="62.73" height="10.30" fill="#c6f0f3"/>
<rect x="1114.47" y="419.82" width="62.73" height="10.30" fill="#c6f0f3"/>
<rect x="1178.60" y="419.82" width="62.73" height="10.30" fill="#c6f0f3"/>
<rect x="1242.73" y="419.82" width="62.73" height="10.30" fill="#72dce5"/>
<rect x="1306.87" y="419.82" width="62.73" height="10.30" fill="#72dce5"/>
<rect x="986.20" y="431.52" width="62.73" height="10.30" fill="#c6f0f3"/>
<rect x="1050.33" y="431.52" width="62.73" height="10.30" fill="#c6f0f3"/>
<rect x="1114.47" y="431.52" width="62.73" height="10.30" fill="#c6f0f3"/>
<rect x="1178.60" y="431.52" width="62.73" height="10.30" fill="#c6f0f3"/>
<rect x="1242.73" y="431.52" width="62.73" height="10.30" fill="#72dce5"/>
<rect x="1306.87" y="431.52" width="62.73" height="10.30" fill="#72dce5"/>
<rect x="986.20" y="443.22" width="62.73" height="10.30" fill="#c6f0f3"/>
<rect x="1050.33" y="443.22" width="62.73" height="10.30" fill="#c6f0f3"/>
<rect x="1114.47" y="443.22" width="62.73" height="10.30" fill="#c6f0f3"/>
<rect x="1178.60" y="443.22" width="62.73" height="10.30" fill="#c6f0f3"/>
<rect x="1242.73" y="443.22" width="62.73" height="10.30" fill="#72dce5"/>
<rect x="1306.87" y="443.22" width="62.73" height="10.30" fill="#72dce5"/>
<rect x="986.20" y="454.91" width="62.73" height="10.30" fill="#c6f0f3"/>
<rect x="1050.33" y="454.91" width="62.73" height="10.30" fill="#c6f0f3"/>
<rect x="1114.47" y="454.91" width="62.73" height="10.30" fill="#c6f0f3"/>
<rect x="1178.60" y="454.91" width="62.73" height="10.30" fill="#c6f0f3"/>
<rect x="1242.73" y="454.91" width="62.73" height="10.30" fill="#72dce5"/>
<rect x="1306.87" y="454.91" width="62.73" height="10.30" fill="#72dce5"/>
<rect x="986.20" y="466.61" width="62.73" height="10.30" fill="#c6f0f3"/>
<rect x="1050.33" y="466.61" width="62.73" height="10.30" fill="#c6f0f3"/>
<rect x="1114.47" y="466.61" width="62.73" height="10.30" fill="#c6f0f3"/>
<rect x="1178.60" y="466.61" width="62.73" height="10.30" fill="#c6f0f3"/>
<rect x="1242.73" y="466.61" width="62.73" height="10.30" fill="#72dce5"/>
<rect x="1306.87" y="466.61" width="62.73" height="10.30" fill="#72dce5"/>
<rect x="986.20" y="478.31" width="62.73" height="10.30" fill="#c6f0f3"/>
<rect x="1050.33" y="478.31" width="62.73" height="10.30" fill="#c6f0f3"/>
<rect x="1114.47" y="478.31" width="62.73" height="10.30" fill="#c6f0f3"/>
<rect x="1178.60" y="478.31" width="62.73" height="10.30" fill="#c6f0f3"/>
<rect x="1242.73" y="478.31" width="62.73" height="10.30" fill="#72dce5"/>
<rect x="1306.87" y="478.31" width="62.73" height="10.30" fill="#72dce5"/>
<rect x="986.20" y="490.01" width="62.73" height="10.30" fill="#c6f0f3"/>
<rect x="1050.33" y="490.01" width="62.73" height="10.30" fill="#c6f0f3"/>
<rect x="1114.47" y="490.01" width="62.73" height="10.30" fill="#72dce5"/>
<rect x="1178.60" y="490.01" width="62.73" height="10.30" fill="#c6f0f3"/>
<rect x="1242.73" y="490.01" width="62.73" height="10.30" fill="#72dce5"/>
<rect x="1306.87" y="490.01" width="62.73" height="10.30" fill="#72dce5"/>
<rect x="986.20" y="501.70" width="62.73" height="10.30" fill="#c6f0f3"/>
<rect x="1050.33" y="501.70" width="62.73" height="10.30" fill="#c6f0f3"/>
<rect x="1114.47" y="501.70" width="62.73" height="10.30" fill="#72dce5"/>
<rect x="1178.60" y="501.70" width="62.73" height="10.30" fill="#c6f0f3"/>
<rect x="1242.73" y="501.70" width="62.73" height="10.30" fill="#72dce5"/>
<rect x="1306.87" y="501.70" width="62.73" height="10.30" fill="#72dce5"/>
<rect x="966.20" y="91.60" width="15.00" height="35.09" fill="#6c3daf"/>
<rect x="966.20" y="126.69" width="15.00" height="105.28" fill="#fd5a60"/>
<rect x="966.20" y="231.97" width="15.00" height="58.49" fill="#abe853"/>
<rect x="966.20" y="302.15" width="15.00" height="35.09" fill="#fd5a60"/>
<rect x="966.20" y="337.24" width="15.00" height="35.09" fill="#6c3daf"/>
<rect x="966.20" y="372.33" width="15.00" height="23.39" fill="#fd5a60"/>
<rect x="966.20" y="395.73" width="15.00" height="35.09" fill="#6c3daf"/>
<rect x="966.20" y="430.82" width="15.00" height="35.09" fill="#abe853"/>
<rect x="966.20" y="465.91" width="15.00" height="46.79" fill="#fd5a60"/>
<line x1="984.25" y1="97.15" x2="984.25" y2="331.39" stroke="#919191" stroke-width="1.8"/>
<line x1="984.25" y1="343.09" x2="984.25" y2="378.68" stroke="#959595" stroke-width="1.8"/>
<line x1="984.90" y1="401.28" x2="984.90" y2="483.46" stroke="#a2a2a2" stroke-width="2.8"/>
<line x1="984.60" y1="495.15" x2="984.60" y2="506.85" stroke="#9a9a9a" stroke-width="2.2"/>
<line x1="1017.57" y1="90.30" x2="1081.70" y2="90.30" stroke="#858585" stroke-width="1.5"/>
<line x1="1274.10" y1="90.30" x2="1338.23" y2="90.30" stroke="#858585" stroke-width="1.5"/>
<line x1="1049.63" y1="90.30" x2="1049.63" y2="21.40" stroke="#111" stroke-width="2.2"/>
<line x1="1145.83" y1="91.00" x2="1145.83" y2="21.40" stroke="#111" stroke-width="2.2"/>
<line x1="1048.63" y1="21.40" x2="1146.83" y2="21.40" stroke="#111" stroke-width="2.2"/>
<line x1="1097.73" y1="21.40" x2="1097.73" y2="8.20" stroke="#111" stroke-width="2.2"/>
<line x1="1209.97" y1="91.00" x2="1209.97" y2="8.20" stroke="#111" stroke-width="2.2"/>
<line x1="1306.17" y1="90.30" x2="1306.17" y2="8.20" stroke="#111" stroke-width="2.2"/>
<line x1="910.80" y1="319.70" x2="984.60" y2="319.70" stroke="#111" stroke-width="2.2"/>
<line x1="910.80" y1="367.38" x2="984.60" y2="367.38" stroke="#111" stroke-width="2.2"/>
<line x1="910.80" y1="318.70" x2="910.80" y2="368.38" stroke="#111" stroke-width="2.2"/>
<line x1="880.50" y1="343.54" x2="910.80" y2="343.54" stroke="#111" stroke-width="2.2"/>
<line x1="880.50" y1="389.88" x2="984.60" y2="389.88" stroke="#111" stroke-width="2.2"/>
<line x1="880.50" y1="342.54" x2="880.50" y2="390.88" stroke="#111" stroke-width="2.2"/>
<line x1="910.80" y1="471.76" x2="984.60" y2="471.76" stroke="#111" stroke-width="2.2"/>
<line x1="910.80" y1="501.00" x2="984.60" y2="501.00" stroke="#111" stroke-width="2.2"/>
<line x1="910.80" y1="470.76" x2="910.80" y2="502.00" stroke="#111" stroke-width="2.2"/>
<line x1="836.10" y1="366.71" x2="880.50" y2="366.71" stroke="#111" stroke-width="2.2"/>
<line x1="836.10" y1="486.38" x2="910.80" y2="486.38" stroke="#111" stroke-width="2.2"/>
<line x1="836.10" y1="365.71" x2="836.10" y2="487.38" stroke="#111" stroke-width="2.2"/>
<line x1="1370.60" y1="97.45" x2="1374.60" y2="97.45" stroke="#3a3a3a" stroke-width="1.3"/>
<text transform="translate(1377.00,100.35) scale(0.99,1)" font-size="10.3" font-family='"Liberation Sans", Arial, sans-serif' stroke="#383838" stroke-width="0.35" fill="#383838" text-anchor="start">M1.2</text>
<line x1="1370.60" y1="109.15" x2="1374.60" y2="109.15" stroke="#3a3a3a" stroke-width="1.3"/>
<text transform="translate(1377.00,112.05) scale(0.99,1)" font-size="10.3" font-family='"Liberation Sans", Arial, sans-serif' stroke="#383838" stroke-width="0.35" fill="#383838" text-anchor="start">M1.1</text>
<line x1="1370.60" y1="120.84" x2="1374.60" y2="120.84" stroke="#3a3a3a" stroke-width="1.3"/>
<text transform="translate(1377.00,123.74) scale(0.99,1)" font-size="10.3" font-family='"Liberation Sans", Arial, sans-serif' stroke="#383838" stroke-width="0.35" fill="#383838" text-anchor="start">M1.4</text>
<line x1="1370.60" y1="132.54" x2="1374.60" y2="132.54" stroke="#3a3a3a" stroke-width="1.3"/>
<text transform="translate(1377.00,135.44) scale(0.99,1)" font-size="10.3" font-family='"Liberation Sans", Arial, sans-serif' stroke="#383838" stroke-width="0.35" fill="#383838" text-anchor="start">M2.1</text>
<line x1="1370.60" y1="144.24" x2="1374.60" y2="144.24" stroke="#3a3a3a" stroke-width="1.3"/>
<text transform="translate(1377.00,147.14) scale(0.99,1)" font-size="10.3" font-family='"Liberation Sans", Arial, sans-serif' stroke="#383838" stroke-width="0.35" fill="#383838" text-anchor="start">M2.2</text>
<line x1="1370.60" y1="155.93" x2="1374.60" y2="155.93" stroke="#3a3a3a" stroke-width="1.3"/>
<text transform="translate(1377.00,158.83) scale(0.99,1)" font-size="10.3" font-family='"Liberation Sans", Arial, sans-serif' stroke="#383838" stroke-width="0.35" fill="#383838" text-anchor="start">M2.4</text>
<line x1="1370.60" y1="167.63" x2="1374.60" y2="167.63" stroke="#3a3a3a" stroke-width="1.3"/>
<text transform="translate(1377.00,170.53) scale(0.99,1)" font-size="10.3" font-family='"Liberation Sans", Arial, sans-serif' stroke="#383838" stroke-width="0.35" fill="#383838" text-anchor="start">M2.5</text>
<line x1="1370.60" y1="179.33" x2="1374.60" y2="179.33" stroke="#3a3a3a" stroke-width="1.3"/>
<text transform="translate(1377.00,182.23) scale(0.99,1)" font-size="10.3" font-family='"Liberation Sans", Arial, sans-serif' stroke="#383838" stroke-width="0.35" fill="#383838" text-anchor="start">M2.6</text>
<line x1="1370.60" y1="191.03" x2="1374.60" y2="191.03" stroke="#3a3a3a" stroke-width="1.3"/>
<text transform="translate(1377.00,193.93) scale(0.99,1)" font-size="10.3" font-family='"Liberation Sans", Arial, sans-serif' stroke="#383838" stroke-width="0.35" fill="#383838" text-anchor="start">M2.9</text>
<line x1="1370.60" y1="202.72" x2="1374.60" y2="202.72" stroke="#3a3a3a" stroke-width="1.3"/>
<text transform="translate(1377.00,205.62) scale(0.99,1)" font-size="10.3" font-family='"Liberation Sans", Arial, sans-serif' stroke="#383838" stroke-width="0.35" fill="#383838" text-anchor="start">M2.10</text>
<line x1="1370.60" y1="214.42" x2="1374.60" y2="214.42" stroke="#3a3a3a" stroke-width="1.3"/>
<text transform="translate(1377.00,217.32) scale(0.99,1)" font-size="10.3" font-family='"Liberation Sans", Arial, sans-serif' stroke="#383838" stroke-width="0.35" fill="#383838" text-anchor="start">M2.11</text>
<line x1="1370.60" y1="226.12" x2="1374.60" y2="226.12" stroke="#3a3a3a" stroke-width="1.3"/>
<text transform="translate(1377.00,229.02) scale(0.99,1)" font-size="10.3" font-family='"Liberation Sans", Arial, sans-serif' stroke="#383838" stroke-width="0.35" fill="#383838" text-anchor="start">M2.12</text>
<line x1="1370.60" y1="237.82" x2="1374.60" y2="237.82" stroke="#3a3a3a" stroke-width="1.3"/>
<text transform="translate(1377.00,240.72) scale(0.99,1)" font-size="10.3" font-family='"Liberation Sans", Arial, sans-serif' stroke="#383838" stroke-width="0.35" fill="#383838" text-anchor="start">M3.7</text>
<line x1="1370.60" y1="249.51" x2="1374.60" y2="249.51" stroke="#3a3a3a" stroke-width="1.3"/>
<text transform="translate(1377.00,252.41) scale(0.99,1)" font-size="10.3" font-family='"Liberation Sans", Arial, sans-serif' stroke="#383838" stroke-width="0.35" fill="#383838" text-anchor="start">M3.8</text>
<line x1="1370.60" y1="261.21" x2="1374.60" y2="261.21" stroke="#3a3a3a" stroke-width="1.3"/>
<text transform="translate(1377.00,264.11) scale(0.99,1)" font-size="10.3" font-family='"Liberation Sans", Arial, sans-serif' stroke="#383838" stroke-width="0.35" fill="#383838" text-anchor="start">M3.9</text>
<line x1="1370.60" y1="272.91" x2="1374.60" y2="272.91" stroke="#3a3a3a" stroke-width="1.3"/>
<text transform="translate(1377.00,275.81) scale(0.99,1)" font-size="10.3" font-family='"Liberation Sans", Arial, sans-serif' stroke="#383838" stroke-width="0.35" fill="#383838" text-anchor="start">M3.11</text>
<line x1="1370.60" y1="284.60" x2="1374.60" y2="284.60" stroke="#3a3a3a" stroke-width="1.3"/>
<text transform="translate(1377.00,287.50) scale(0.99,1)" font-size="10.3" font-family='"Liberation Sans", Arial, sans-serif' stroke="#383838" stroke-width="0.35" fill="#383838" text-anchor="start">M3.12</text>
<line x1="1370.60" y1="296.30" x2="1374.60" y2="296.30" stroke="#3a3a3a" stroke-width="1.3"/>
<text transform="translate(1377.00,299.20) scale(0.99,1)" font-size="10.3" font-family='"Liberation Sans", Arial, sans-serif' stroke="#383838" stroke-width="0.35" fill="#383838" text-anchor="start">M4.4</text>
<line x1="1370.60" y1="308.00" x2="1374.60" y2="308.00" stroke="#3a3a3a" stroke-width="1.3"/>
<text transform="translate(1377.00,310.90) scale(0.99,1)" font-size="10.3" font-family='"Liberation Sans", Arial, sans-serif' stroke="#383838" stroke-width="0.35" fill="#383838" text-anchor="start">M4.10</text>
<line x1="1370.60" y1="319.70" x2="1374.60" y2="319.70" stroke="#3a3a3a" stroke-width="1.3"/>
<text transform="translate(1377.00,322.60) scale(0.99,1)" font-size="10.3" font-family='"Liberation Sans", Arial, sans-serif' stroke="#383838" stroke-width="0.35" fill="#383838" text-anchor="start">M4.11</text>
<line x1="1370.60" y1="331.39" x2="1374.60" y2="331.39" stroke="#3a3a3a" stroke-width="1.3"/>
<text transform="translate(1377.00,334.29) scale(0.99,1)" font-size="10.3" font-family='"Liberation Sans", Arial, sans-serif' stroke="#383838" stroke-width="0.35" fill="#383838" text-anchor="start">M4.12</text>
<line x1="1370.60" y1="343.09" x2="1374.60" y2="343.09" stroke="#3a3a3a" stroke-width="1.3"/>
<text transform="translate(1377.00,345.99) scale(0.99,1)" font-size="10.3" font-family='"Liberation Sans", Arial, sans-serif' stroke="#383838" stroke-width="0.35" fill="#383838" text-anchor="start">M1.7</text>
<line x1="1370.60" y1="354.79" x2="1374.60" y2="354.79" stroke="#3a3a3a" stroke-width="1.3"/>
<text transform="translate(1377.00,357.69) scale(0.99,1)" font-size="10.3" font-family='"Liberation Sans", Arial, sans-serif' stroke="#383838" stroke-width="0.35" fill="#383838" text-anchor="start">M1.5</text>
<line x1="1370.60" y1="366.48" x2="1374.60" y2="366.48" stroke="#3a3a3a" stroke-width="1.3"/>
<text transform="translate(1377.00,369.38) scale(0.99,1)" font-size="10.3" font-family='"Liberation Sans", Arial, sans-serif' stroke="#383838" stroke-width="0.35" fill="#383838" text-anchor="start">M1.9</text>
<line x1="1370.60" y1="378.18" x2="1374.60" y2="378.18" stroke="#3a3a3a" stroke-width="1.3"/>
<text transform="translate(1377.00,381.08) scale(0.99,1)" font-size="10.3" font-family='"Liberation Sans", Arial, sans-serif' stroke="#383838" stroke-width="0.35" fill="#383838" text-anchor="start">M2.7</text>
<line x1="1370.60" y1="389.88" x2="1374.60" y2="389.88" stroke="#3a3a3a" stroke-width="1.3"/>
<text transform="translate(1377.00,392.78) scale(0.99,1)" font-size="10.3" font-family='"Liberation Sans", Arial, sans-serif' stroke="#383838" stroke-width="0.35" fill="#383838" text-anchor="start">M2.8</text>
<line x1="1370.60" y1="401.58" x2="1374.60" y2="401.58" stroke="#3a3a3a" stroke-width="1.3"/>
<text transform="translate(1377.00,404.48) scale(0.99,1)" font-size="10.3" font-family='"Liberation Sans", Arial, sans-serif' stroke="#383838" stroke-width="0.35" fill="#383838" text-anchor="start">M1.6</text>
<line x1="1370.60" y1="413.27" x2="1374.60" y2="413.27" stroke="#3a3a3a" stroke-width="1.3"/>
<text transform="translate(1377.00,416.17) scale(0.99,1)" font-size="10.3" font-family='"Liberation Sans", Arial, sans-serif' stroke="#383838" stroke-width="0.35" fill="#383838" text-anchor="start">M1.3</text>
<line x1="1370.60" y1="424.97" x2="1374.60" y2="424.97" stroke="#3a3a3a" stroke-width="1.3"/>
<text transform="translate(1377.00,427.87) scale(0.99,1)" font-size="10.3" font-family='"Liberation Sans", Arial, sans-serif' stroke="#383838" stroke-width="0.35" fill="#383838" text-anchor="start">M1.11</text>
<line x1="1370.60" y1="436.67" x2="1374.60" y2="436.67" stroke="#3a3a3a" stroke-width="1.3"/>
<text transform="translate(1377.00,439.57) scale(0.99,1)" font-size="10.3" font-family='"Liberation Sans", Arial, sans-serif' stroke="#383838" stroke-width="0.35" fill="#383838" text-anchor="start">M3.2</text>
<line x1="1370.60" y1="448.37" x2="1374.60" y2="448.37" stroke="#3a3a3a" stroke-width="1.3"/>
<text transform="translate(1377.00,451.27) scale(0.99,1)" font-size="10.3" font-family='"Liberation Sans", Arial, sans-serif' stroke="#383838" stroke-width="0.35" fill="#383838" text-anchor="start">M3.5</text>
<line x1="1370.60" y1="460.06" x2="1374.60" y2="460.06" stroke="#3a3a3a" stroke-width="1.3"/>
<text transform="translate(1377.00,462.96) scale(0.99,1)" font-size="10.3" font-family='"Liberation Sans", Arial, sans-serif' stroke="#383838" stroke-width="0.35" fill="#383838" text-anchor="start">M3.10</text>
<line x1="1370.60" y1="471.76" x2="1374.60" y2="471.76" stroke="#3a3a3a" stroke-width="1.3"/>
<text transform="translate(1377.00,474.66) scale(0.99,1)" font-size="10.3" font-family='"Liberation Sans", Arial, sans-serif' stroke="#383838" stroke-width="0.35" fill="#383838" text-anchor="start">M4.8</text>
<line x1="1370.60" y1="483.46" x2="1374.60" y2="483.46" stroke="#3a3a3a" stroke-width="1.3"/>
<text transform="translate(1377.00,486.36) scale(0.99,1)" font-size="10.3" font-family='"Liberation Sans", Arial, sans-serif' stroke="#383838" stroke-width="0.35" fill="#383838" text-anchor="start">M4.9</text>
<line x1="1370.60" y1="495.15" x2="1374.60" y2="495.15" stroke="#3a3a3a" stroke-width="1.3"/>
<text transform="translate(1377.00,498.05) scale(0.99,1)" font-size="10.3" font-family='"Liberation Sans", Arial, sans-serif' stroke="#383838" stroke-width="0.35" fill="#383838" text-anchor="start">M4.7</text>
<line x1="1370.60" y1="506.85" x2="1374.60" y2="506.85" stroke="#3a3a3a" stroke-width="1.3"/>
<text transform="translate(1377.00,509.75) scale(0.99,1)" font-size="10.3" font-family='"Liberation Sans", Arial, sans-serif' stroke="#383838" stroke-width="0.35" fill="#383838" text-anchor="start">M4.6</text>
<line x1="1017.57" y1="512.90" x2="1017.57" y2="516.70" stroke="#3a3a3a" stroke-width="1.2"/>
<text transform="translate(1019.37,526.50) scale(1.0,1) rotate(-45)" font-size="10.1" font-family='"Liberation Sans", Arial, sans-serif' stroke="#383838" stroke-width="0.35" fill="#383838" text-anchor="end">las B</text>
<line x1="1081.70" y1="512.90" x2="1081.70" y2="516.70" stroke="#3a3a3a" stroke-width="1.2"/>
<text transform="translate(1083.50,526.50) scale(1.0,1) rotate(-45)" font-size="10.1" font-family='"Liberation Sans", Arial, sans-serif' stroke="#383838" stroke-width="0.35" fill="#383838" text-anchor="end">plc N</text>
<line x1="1145.83" y1="512.90" x2="1145.83" y2="516.70" stroke="#3a3a3a" stroke-width="1.2"/>
<text transform="translate(1147.63,526.50) scale(1.0,1) rotate(-45)" font-size="10.1" font-family='"Liberation Sans", Arial, sans-serif' stroke="#383838" stroke-width="0.35" fill="#383838" text-anchor="end">alg D</text>
<line x1="1209.97" y1="512.90" x2="1209.97" y2="516.70" stroke="#3a3a3a" stroke-width="1.2"/>
<text transform="translate(1211.77,526.50) scale(1.0,1) rotate(-45)" font-size="10.1" font-family='"Liberation Sans", Arial, sans-serif' stroke="#383838" stroke-width="0.35" fill="#383838" text-anchor="end">Tox A</text>
<line x1="1274.10" y1="512.90" x2="1274.10" y2="516.70" stroke="#3a3a3a" stroke-width="1.2"/>
<text transform="translate(1275.90,526.50) scale(1.0,1) rotate(-45)" font-size="10.1" font-family='"Liberation Sans", Arial, sans-serif' stroke="#383838" stroke-width="0.35" fill="#383838" text-anchor="end">plc H</text>
<line x1="1338.23" y1="512.90" x2="1338.23" y2="516.70" stroke="#3a3a3a" stroke-width="1.2"/>
<text transform="translate(1340.03,526.50) scale(1.0,1) rotate(-45)" font-size="10.1" font-family='"Liberation Sans", Arial, sans-serif' stroke="#383838" stroke-width="0.35" fill="#383838" text-anchor="end">Exo S</text>
<text transform="translate(1452.30,144.80) scale(1.02,1)" font-size="11.2" font-family='"Liberation Sans", Arial, sans-serif' font-weight="bold" stroke="#1a1a1a" stroke-width="0.15" fill="#1a1a1a" text-anchor="start">ChiPlot</text>
<rect x="1433.00" y="152.70" width="18.20" height="18.30" fill="#72dce5" rx="2"/>
<rect x="1433.00" y="175.30" width="18.20" height="18.10" fill="#c6f0f3" rx="2"/>
<text transform="translate(1456.50,165.30) scale(1.0,1)" font-size="11.4" font-family='"Liberation Sans", Arial, sans-serif' stroke="#383838" stroke-width="0.3" fill="#383838" text-anchor="start">present</text>
<text transform="translate(1456.50,188.10) scale(1.0,1)" font-size="11.4" font-family='"Liberation Sans", Arial, sans-serif' stroke="#383838" stroke-width="0.3" fill="#383838" text-anchor="start">absent</text>
<text transform="translate(1457.40,240.90) scale(1.02,1)" font-size="11.2" font-family='"Liberation Sans", Arial, sans-serif' font-weight="bold" stroke="#1a1a1a" stroke-width="0.15" fill="#1a1a1a" text-anchor="start">Genus</text>
<rect x="1438.30" y="248.80" width="18.50" height="18.20" fill="#6c3daf" rx="2"/>
<text transform="translate(1461.70,261.40) scale(1.0,1)" font-size="11.6" font-family='"Liberation Sans", Arial, sans-serif' stroke="#383838" stroke-width="0.3" fill="#383838" text-anchor="start">Hemipyrellia</text>
<rect x="1438.30" y="271.30" width="18.50" height="18.20" fill="#fd5a60" rx="2"/>
<text transform="translate(1461.70,283.90) scale(1.0,1)" font-size="11.6" font-family='"Liberation Sans", Arial, sans-serif' stroke="#383838" stroke-width="0.3" fill="#383838" text-anchor="start">Tabanus</text>
<rect x="1438.30" y="293.80" width="18.50" height="18.20" fill="#abe853" rx="2"/>
<text transform="translate(1461.70,306.40) scale(1.0,1)" font-size="11.6" font-family='"Liberation Sans", Arial, sans-serif' stroke="#383838" stroke-width="0.3" fill="#383838" text-anchor="start">Chrysomya</text>
<text transform="translate(798.30,585.90) scale(1.0,1)" font-size="23" font-family='"Liberation Serif", "Times New Roman", serif' font-weight="bold" fill="#000" text-anchor="start">B</text>
</svg>
</body></html>
